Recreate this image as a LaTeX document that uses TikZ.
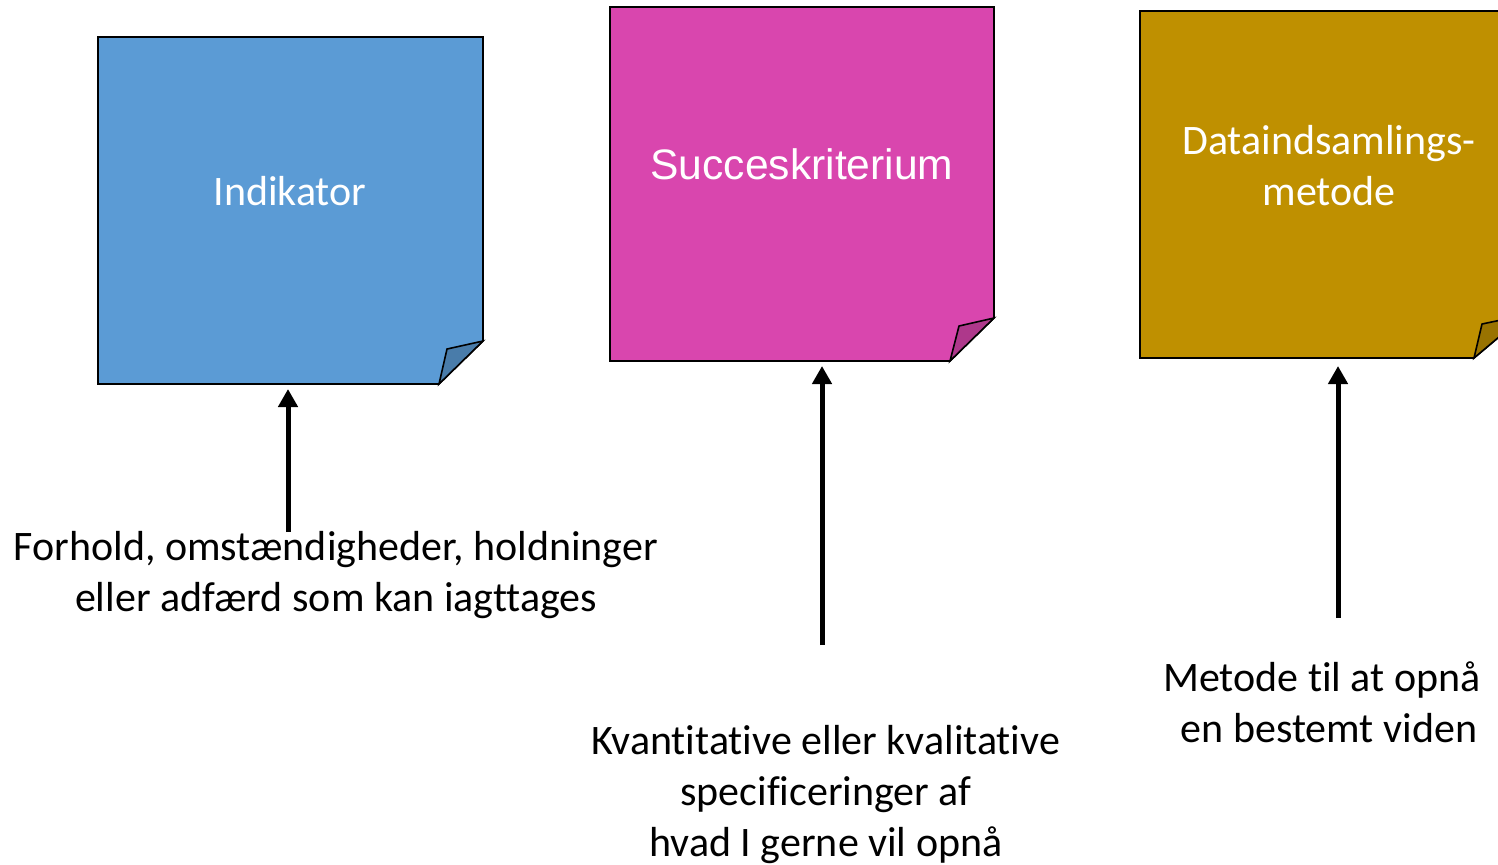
\documentclass[tikz,border=0pt]{standalone}
\usepackage{fontspec}
\setmainfont{Carlito}[Ligatures={NoCommon}]
\newfontfamily\arialf{Liberation Sans}
\usetikzlibrary{arrows.meta}
\definecolor{nblue}{HTML}{5B9BD5}
\definecolor{nbluef}{HTML}{497CAA}
\definecolor{nmag}{HTML}{D946AE}
\definecolor{nmagf}{HTML}{AE388B}
\definecolor{ngold}{HTML}{BF9000}
\definecolor{ngoldf}{HTML}{997300}
\begin{document}
\begin{tikzpicture}[x=0.5pt,y=-0.5pt,
  note/.style={draw=black,line width=0.8pt,line join=miter},
  lbl/.style={font=\fontsize{21}{25.5}\selectfont,align=center,inner sep=0pt,anchor=base},
  ttl/.style={lbl,text=white},
  arr/.style={line width=2.5pt,-{Triangle[width=9.5pt,length=9pt]}}]
\useasboundingbox (0,0) rectangle (1498,864);
\fill[white] (0,0) rectangle (1498,864);
\begin{scope}
\clip (0,0) rectangle (1498,864);
% note 1
\filldraw[note,fill=nblue] (98,37) -- (483,37) -- (483,341) -- (439,384) -- (98,384) -- cycle;
\filldraw[note,fill=nbluef] (483,341) -- (447,349) -- (439,384) -- cycle;
% note 2
\filldraw[note,fill=nmag] (610,7) -- (994,7) -- (994,318) -- (950,361) -- (610,361) -- cycle;
\filldraw[note,fill=nmagf] (994,318) -- (959,326) -- (950,361) -- cycle;
% note 3
\filldraw[note,fill=ngold] (1140,11) -- (1525,11) -- (1525,315) -- (1474,358) -- (1140,358) -- cycle;
\filldraw[note,fill=ngoldf] (1525,315) -- (1482,324) -- (1474,358) -- cycle;
\end{scope}
% titles (base anchor = baseline of last line)
\node[ttl] (t1) at (290,205) {Indikator};
\node[ttl,font=\arialf\fontsize{21.3}{25.5}\selectfont] (t2) at (802,179) {Succeskriterium};
\node[ttl] (t3) at (1329,205) {Dataindsamlings-\\metode};
% descriptions
\node[lbl] (d1) at (336,611) {Forhold, omstændigheder, holdninger\\eller adfærd som kan iagttages};
\node[lbl] (d2) at (826,856) {Kvantitative eller kvalitative\\specificeringer af\\hvad I gerne vil opnå};
\node[lbl] (d3) at (1322,742) {Metode til at opnå\\\hspace*{7pt}en bestemt viden};
% arrow coordinates
\coordinate (a1s) at (288,532); \coordinate (a1e) at (288,389);
\coordinate (a2s) at (822,645); \coordinate (a2e) at (822,366);
\coordinate (a3s) at (1338,618); \coordinate (a3e) at (1338,366);
\draw[arr] (a1s) -- (a1e);
\draw[arr] (a2s) -- (a2e);
\draw[arr] (a3s) -- (a3e);
\end{tikzpicture}
\end{document}
